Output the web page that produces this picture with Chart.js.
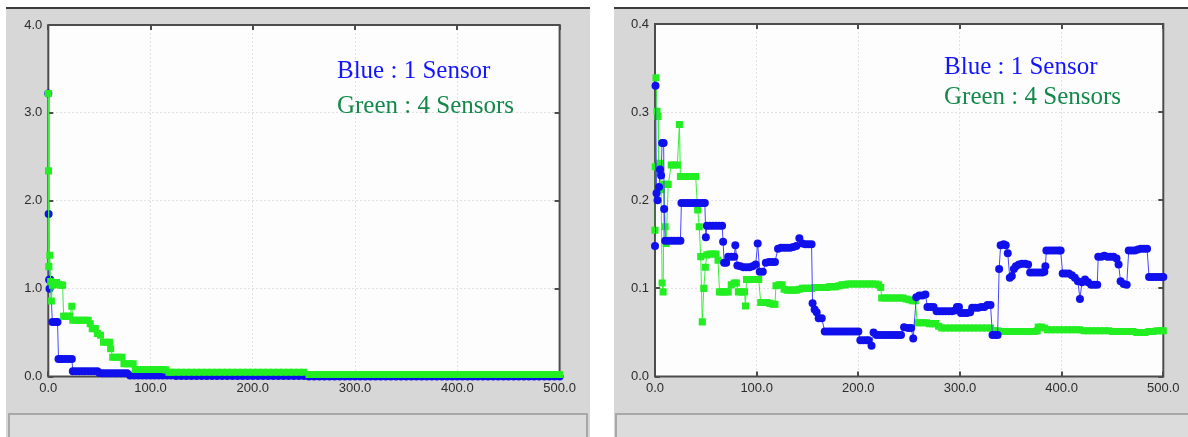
<!DOCTYPE html>
<html>
<head>
<meta charset="utf-8">
<script src="https://cdn.jsdelivr.net/npm/chart.js@4.4.0/dist/chart.umd.min.js"></script>
<style>
html, body { margin: 0; padding: 0; background: #fff; }
body { width: 1188px; height: 437px; position: relative; overflow: hidden; }
.panel { position: absolute; top: 7px; height: 430px; background: #d7d7d7; border-top: 2px solid #3c3c3c; }
.status { position: absolute; top: 413px; height: 30px; background: #dcdcdc; border: 2px solid #a8a8a8; box-sizing: border-box; }
canvas { position: absolute; }
</style>
</head>
<body>
<div class="panel" style="left:6px;width:584px"></div>
<div class="panel" style="left:614px;width:574px"></div>
<div class="status" style="left:8px;width:580px"></div>
<div class="status" style="left:615px;width:575px"></div>
<canvas id="left" width="584" height="405" style="left:6px;top:9px"></canvas>
<canvas id="right" width="574" height="405" style="left:614px;top:9px"></canvas>
<script>
// x ticks shared by both panels
const xTicks = [0, 100, 200, 300, 400, 500];
const leftYTicks = [0, 1, 2, 3, 4];
const rightYTicks = [0, 0.1, 0.2, 0.3, 0.4];

// left panel: [x, y]
const leftBlue = [
	[0,3.22],[0.3,1.85],[0.8,1.1],[1.2,1.0],[2,1.1],[4,0.62],[6,0.62],[8,0.62],[9,0.62],
	[10,0.2],[12,0.2],[14,0.2],[17,0.2],[20,0.2],[23,0.2],
	[24,0.06],[27,0.06],[30,0.06],[33,0.06],[36,0.06],[39,0.06],[42,0.06],[45,0.06],[48,0.06],
	[50,0.04],[53,0.038],[56,0.038],[59,0.038],[62,0.038],[65,0.038],[68,0.038],[71,0.038],[74,0.038],[77,0.038],
	[80,0.012],[84,0.012],[88,0.012],[92,0.012],[96,0.011],[100,0.011],[104,0.011],[108,0.011],[112,0.01],[116,0.01],[120,0.01],
	[125,0.005],[130,0.005],[135,0.005],[140,0.005],[145,0.005],[150,0.005],[155,0.005],[160,0.005],[165,0.005],[170,0.005],
	[175,0.005],[180,0.005],[185,0.005],[190,0.005],[195,0.005],[200,0.005],[205,0.005],[210,0.005],[215,0.005],[220,0.005],
	[225,0.005],[230,0.005],[235,0.005],[240,0.005],[245,0.005],[250,0.005],
	[255,0],[260,0],[265,0],[270,0],[275,0],[280,0],[285,0],[290,0],[295,0],[300,0],
	[305,0],[310,0],[315,0],[320,0],[325,0],[330,0],[335,0],[340,0],[345,0],[350,0],
	[355,0],[360,0],[365,0],[370,0],[375,0],[380,0],[385,0],[390,0],[395,0],[400,0],
	[405,0],[410,0],[415,0],[420,0],[425,0],[430,0],[435,0],[440,0],[445,0],[450,0],
	[455,0],[460,0],[465,0],[470,0],[475,0],[480,0],[485,0],[490,0],[495,0],[500,0]
];
const leftGreen = [
	[0,3.22],[0.2,2.34],[0.5,1.25],[1.5,1.38],[2.3,1.08],[3,0.86],[4,1.04],[6,1.05],[8,1.07],[10,1.05],[12,1.04],[14,1.04],
	[15,0.686],[17,0.686],[19,0.686],[21,0.686],[23,0.8],
	[24,0.64],[27,0.64],[30,0.64],[33,0.64],[36,0.64],[39,0.64],[41,0.6],[43,0.545],[46,0.545],[48,0.49],[51,0.47],
	[54,0.39],[57,0.39],[60,0.39],[61,0.316],[63,0.22],[66,0.22],[69,0.22],[72,0.22],
	[74,0.145],[77,0.145],[80,0.145],[83,0.145],
	[85,0.08],[88,0.08],[91,0.08],[94,0.08],[97,0.08],[100,0.08],[103,0.08],[106,0.08],[109,0.08],[112,0.08],[115,0.075],
	[118,0.048],[120,0.048],[125,0.048],[130,0.048],[135,0.048],[140,0.048],[145,0.048],[150,0.048],[155,0.048],[160,0.048],
	[165,0.048],[170,0.048],[175,0.048],[180,0.048],[185,0.048],[190,0.048],[195,0.048],[200,0.048],[205,0.048],[210,0.048],
	[215,0.048],[220,0.048],[225,0.048],[230,0.048],[235,0.048],[240,0.048],[245,0.048],[250,0.048],
	[255,0.023],[260,0.023],[265,0.023],[270,0.023],[275,0.023],[280,0.023],[285,0.023],[290,0.023],[295,0.023],[300,0.023],
	[305,0.023],[310,0.023],[315,0.023],[320,0.023],[325,0.023],[330,0.023],[335,0.023],[340,0.023],[345,0.023],[350,0.023],
	[355,0.023],[360,0.023],[365,0.023],[370,0.023],[375,0.023],[380,0.023],[385,0.023],[390,0.023],[395,0.023],[400,0.023],
	[405,0.023],[410,0.023],[415,0.023],[420,0.023],[425,0.023],[430,0.023],[435,0.023],[440,0.023],[445,0.023],[450,0.023],
	[455,0.023],[460,0.023],[465,0.023],[470,0.023],[475,0.023],[480,0.023],[485,0.023],[490,0.023],[495,0.023],[500,0.023]
];

// right panel: [x, y]
const rightBlue = [
	[0,0.148],[0.5,0.33],[1.5,0.208],[2.5,0.2],[4,0.215],[5,0.235],[6,0.228],[7,0.265],[8.5,0.265],[9,0.19],
	[10,0.154],[13,0.154],[16,0.154],[19,0.154],[22,0.154],[25,0.154],
	[26,0.197],[29,0.197],[32,0.197],[35,0.197],[38,0.197],[41,0.197],[44,0.197],[47,0.197],[49,0.197],
	[50,0.158],[51,0.171],[54,0.171],[57,0.171],[60,0.171],[63,0.171],[66,0.171],[67,0.153],[68,0.129],[70,0.129],
	[72,0.136],[75,0.136],[78,0.136],[79,0.149],[81,0.126],[84,0.125],[87,0.124],[90,0.124],[93,0.124],[96,0.125],[99,0.127],
	[101,0.151],[103,0.119],[106,0.119],[109,0.129],[112,0.13],[115,0.13],[118,0.13],
	[121,0.145],[124,0.146],[127,0.146],[130,0.146],[133,0.146],[136,0.147],[139,0.148],[142,0.157],[145,0.151],[148,0.15],[151,0.15],[154,0.15],
	[155,0.083],[157,0.076],[159,0.073],[161,0.066],[164,0.066],
	[167,0.051],[170,0.051],[173,0.051],[176,0.051],[179,0.051],[182,0.051],[185,0.051],[188,0.051],[191,0.051],[194,0.051],[197,0.051],[200,0.051],
	[202,0.041],[205,0.041],[208,0.041],[210,0.041],[213,0.035],[215,0.05],
	[218,0.047],[221,0.047],[224,0.047],[227,0.047],[230,0.047],[233,0.047],[236,0.047],[239,0.047],[242,0.047],
	[245,0.056],[249,0.055],[252,0.055],[254,0.043],
	[257,0.09],[260,0.092],[263,0.092],[266,0.093],[268,0.079],[271,0.079],[274,0.079],
	[277,0.074],[280,0.074],[283,0.074],[286,0.074],[289,0.074],[292,0.074],[295,0.075],[297,0.079],[299,0.079],
	[301,0.072],[304,0.072],[307,0.072],[310,0.073],[312,0.078],[315,0.078],[318,0.078],[321,0.079],[324,0.079],[327,0.081],[330,0.081],
	[332,0.047],[335,0.047],[337,0.047],[338.5,0.122],[340,0.149],[343,0.15],[345,0.149],[347,0.14],[349,0.112],[351,0.114],
	[353,0.122],[355,0.125],[358,0.127],[361,0.128],[364,0.128],[367,0.127],
	[369,0.118],[372,0.118],[375,0.118],[378,0.118],[381,0.118],[383,0.119],[384,0.125],
	[385,0.143],[388,0.143],[391,0.143],[394,0.143],[397,0.143],[399,0.143],
	[401,0.117],[404,0.117],[407,0.117],[410,0.115],[413,0.112],[416,0.108],[418,0.088],[420,0.107],[423,0.11],[426,0.107],
	[429,0.104],[432,0.104],[435,0.104],
	[436,0.136],[439,0.136],[442,0.137],[445,0.136],[448,0.136],[451,0.136],[454,0.134],[456,0.127],
	[458,0.108],[461,0.105],[464,0.104],
	[466,0.143],[469,0.143],[472,0.143],[475,0.144],[478,0.145],[481,0.145],[484,0.145],
	[486,0.113],[489,0.113],[492,0.113],[495,0.113],[498,0.113],[500,0.113]
];
const rightGreen = [
	[0,0.166],[0.3,0.238],[1,0.339],[2,0.301],[3,0.295],[3.5,0.231],[5,0.242],[6,0.212],[7,0.106],[8,0.096],
	[9,0.218],[10,0.17],[11,0.151],[13,0.218],[16,0.24],[19,0.24],[22,0.24],[24,0.286],
	[25,0.227],[28,0.227],[31,0.227],[34,0.227],[37,0.227],[40,0.227],[42,0.189],[43.5,0.17],[45,0.136],[46.5,0.062],
	[48,0.1],[49.5,0.124],[51,0.138],[54,0.139],[57,0.139],[60,0.139],[62,0.132],
	[63.5,0.096],[66,0.096],[69,0.096],[72,0.096],[75,0.104],[78,0.106],[80,0.106],[82,0.096],[85,0.096],[88,0.096],[89,0.08],
	[90,0.11],[93,0.11],[96,0.11],[99,0.11],[102,0.11],[104,0.084],[107,0.084],[110,0.084],[113,0.083],[116,0.082],[118,0.082],
	[119,0.103],[122,0.104],[125,0.104],[127,0.099],[130,0.098],[133,0.098],[136,0.098],[139,0.098],[142,0.099],
	[145,0.1],[148,0.1],[151,0.1],[154,0.1],[157,0.101],[160,0.101],[163,0.101],[166,0.101],[169,0.101],[172,0.102],[175,0.102],[178,0.102],
	[181,0.103],[184,0.104],[187,0.104],[190,0.105],[193,0.105],[196,0.105],[199,0.105],[202,0.105],[205,0.105],[208,0.105],
	[211,0.105],[214,0.105],[217,0.105],[220,0.104],[222,0.101],
	[223,0.089],[226,0.089],[229,0.089],[232,0.089],[235,0.089],[238,0.089],[241,0.089],[244,0.089],[247,0.088],[250,0.087],[253,0.086],[256,0.086],
	[258,0.061],[261,0.061],[264,0.061],[267,0.061],[270,0.06],[273,0.06],[276,0.06],[279,0.057],
	[282,0.055],[286,0.055],[290,0.055],[294,0.055],[298,0.055],[302,0.055],[306,0.055],[310,0.055],[314,0.055],[318,0.055],
	[322,0.055],[326,0.055],[330,0.055],
	[333,0.052],[337,0.052],[341,0.051],[345,0.051],[349,0.051],[353,0.051],[357,0.051],[361,0.051],[365,0.051],[369,0.051],[373,0.051],[376,0.052],
	[377,0.056],[380,0.056],[383,0.055],
	[386,0.053],[390,0.053],[394,0.053],[398,0.053],[402,0.053],[406,0.053],[410,0.053],[414,0.053],[418,0.053],
	[422,0.052],[426,0.052],[430,0.052],[434,0.052],[438,0.052],[442,0.052],[446,0.052],[450,0.051],[454,0.051],[458,0.051],
	[462,0.051],[466,0.051],[470,0.051],[474,0.05],[478,0.05],[482,0.05],[486,0.051],[490,0.051],[494,0.052],[497,0.052],[500,0.052]
];

const noteLines = ['Blue : 1 Sensor', 'Green : 4 Sensors'];
const noteColors = ['#1414ff', '#14884a'];

const tickFont = { family: '"Liberation Sans", Arial, sans-serif', size: 13 };

function toPoints(list) {
	return list.map(p => ({ x: p[0], y: p[1] }));
}

// white plot area, dark frame and inward tick marks
const framePlugin = {
	id: 'frame',
	beforeDraw(chart) {
		const a = chart.chartArea;
		const ctx = chart.ctx;
		ctx.save();
		ctx.fillStyle = '#fdfdfd';
		ctx.fillRect(a.left, a.top, a.right - a.left, a.bottom - a.top);
		ctx.restore();
	},
	beforeDatasetsDraw(chart) {
		const a = chart.chartArea;
		const ctx = chart.ctx;
		const xs = chart.scales.x;
		const ys = chart.scales.y;
		ctx.save();
		ctx.strokeStyle = '#4c4c4c';
		ctx.lineWidth = 2;
		ctx.beginPath();
		xs.ticks.forEach(t => {
			const px = Math.round(xs.getPixelForValue(t.value));
			ctx.moveTo(px, a.top); ctx.lineTo(px, a.top + 5);
			ctx.moveTo(px, a.bottom); ctx.lineTo(px, a.bottom - 5);
		});
		ys.ticks.forEach(t => {
			const py = Math.round(ys.getPixelForValue(t.value));
			ctx.moveTo(a.left, py); ctx.lineTo(a.left + 5, py);
			ctx.moveTo(a.right, py); ctx.lineTo(a.right - 5, py);
		});
		ctx.stroke();
		ctx.strokeRect(a.left, a.top, a.right - a.left, a.bottom - a.top);
		ctx.restore();
	},
	afterDraw(chart) {
		const o = chart.options.plugins.frame;
		const ctx = chart.ctx;
		const xs = chart.scales.x;
		const ys = chart.scales.y;
		ctx.save();
		ctx.font = '25px "Liberation Serif", "Times New Roman", serif';
		ctx.textBaseline = 'alphabetic';
		ctx.textAlign = 'left';
		noteLines.forEach((txt, i) => {
			ctx.fillStyle = noteColors[i];
			ctx.fillText(txt, xs.getPixelForValue(o.noteX), ys.getPixelForValue(o.noteY[i]));
		});
		ctx.restore();
	},
};

function makeChart(id, blue, green, yTicks, yW, pad, noteX, noteY, greenOnTop) {
	const blueSet = {
		data: toPoints(blue),
		showLine: true,
		borderColor: '#4848ff',
		borderWidth: 1,
		pointStyle: 'circle',
		pointRadius: 4,
		pointBackgroundColor: '#1010ec',
		pointBorderWidth: 0,
		clip: 8,
	};
	const greenSet = {
		data: toPoints(green),
		showLine: true,
		borderColor: '#3cee3c',
		borderWidth: 1,
		pointStyle: 'rect',
		pointRadius: 5,
		pointBackgroundColor: '#22ee22',
		pointBorderWidth: 0,
		clip: 8,
	};

	return new Chart(document.getElementById(id), {
		type: 'scatter',
		data: { datasets: greenOnTop ? [greenSet, blueSet] : [blueSet, greenSet] },
		options: {
			responsive: false,
			animation: false,
			devicePixelRatio: 1,
			layout: { padding: pad },
			plugins: {
				legend: { display: false },
				tooltip: { enabled: false },
				frame: { noteX: noteX, noteY: noteY },
			},
			scales: {
				x: {
					type: 'linear',
					min: xTicks[0],
					max: xTicks[xTicks.length - 1],
					afterBuildTicks(s) { s.ticks = xTicks.map(v => ({ value: v })); },
					afterFit(s) { s.height = 37.5; },
					ticks: { callback: v => Number(v).toFixed(1), color: '#2c2c2c', font: tickFont, padding: 4, maxRotation: 0 },
					grid: { color: '#e2e2e2', drawTicks: false },
					border: { display: false, dash: [2, 2] },
				},
				y: {
					type: 'linear',
					min: yTicks[0],
					max: yTicks[yTicks.length - 1],
					afterBuildTicks(s) { s.ticks = yTicks.map(v => ({ value: v })); },
					afterFit(s) { s.width = yW; },
					ticks: { callback: v => Number(v).toFixed(1), color: '#2c2c2c', font: tickFont, padding: 6 },
					grid: { color: '#e2e2e2', drawTicks: false },
					border: { display: false, dash: [2, 2] },
				},
			},
		},
		plugins: [framePlugin],
	});
}

makeChart('left', leftBlue, leftGreen, leftYTicks, 42.3, { left: 0, right: 30.4, top: 16, bottom: 0 }, 282.3, [3.396, 3.0], true);
makeChart('right', rightBlue, rightGreen, rightYTicks, 41, { left: 0, right: 24.7, top: 15, bottom: 0 }, 284.3, [0.3434, 0.3093], false);
</script>
</body>
</html>
